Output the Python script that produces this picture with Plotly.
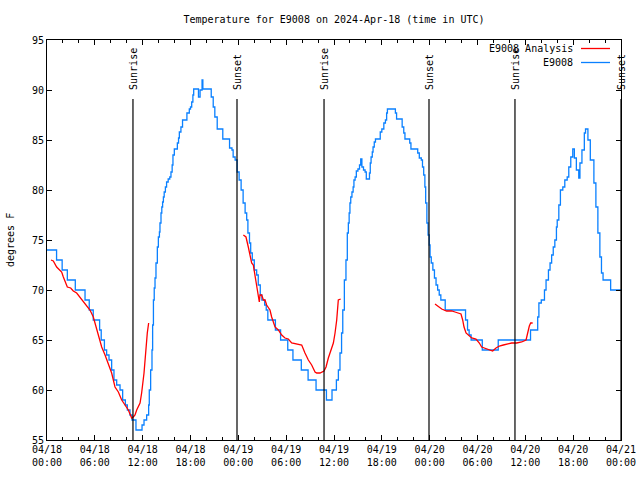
import pandas as pd
import plotly.graph_objects as go

BASE = pd.Timestamp("2024-04-18 00:00")

# Observed station temperature (E9008): hours since 04/18 00:00 UTC, degrees F
obs_hours = [0.0, 1.2, 1.9, 2.55, 3.55, 4.77, 5.3, 5.8, 6.6, 6.8, 7.2, 7.48, 7.78, 8.11, 8.4,
             8.74, 9.16, 9.49, 9.83, 10.08, 10.41, 10.66, 11.16, 11.92, 12.17, 12.5, 12.75,
             12.83, 13.0, 13.17, 13.25, 13.35, 13.45, 13.55, 13.67, 13.84, 13.97, 14.1, 14.17,
             14.3, 14.4, 14.5, 14.6, 14.7, 14.85, 15.0, 15.2, 15.4, 15.55, 15.7, 15.8, 15.97,
             16.35, 16.5, 16.6, 16.8, 17.0, 17.55, 17.85, 18.0, 18.15, 18.3, 18.4, 19.0, 19.2,
             19.45, 19.55, 20.6, 20.85, 21.05, 21.35, 22.05, 22.9, 23.2, 23.35, 23.6, 23.85,
             24.1, 24.35, 24.6, 24.85, 25.05, 25.2, 25.4, 25.55, 25.75, 26.0, 26.3, 26.5, 26.75,
             26.95, 27.3, 27.5, 27.7, 28.65, 29.3, 30.2, 30.85, 31.9, 32.75, 33.75, 35.05, 35.75,
             36.3, 36.55, 36.75, 36.95, 37.1, 37.3, 37.5, 37.67, 37.8, 37.9, 38.0, 38.1, 38.25,
             38.4, 38.5, 38.65, 38.8, 39.0, 39.2, 39.35, 39.5, 39.7, 39.9, 40.05, 40.45, 40.55,
             40.65, 40.8, 40.9, 41.05, 41.2, 41.8, 42.0, 42.25, 42.45, 42.6, 42.7, 43.7, 43.85,
             44.55, 44.75, 44.9, 45.5, 45.65, 46.5, 46.7, 46.95, 47.1, 47.25, 47.4, 47.5, 47.65,
             47.8, 47.95, 48.05, 48.2, 48.4, 48.6, 48.8, 49.0, 49.2, 49.4, 49.95, 52.5, 52.75,
             52.95, 53.2, 54.6, 56.6, 60.65, 61.55, 61.7, 62.0, 62.4, 62.6, 62.9, 63.1, 63.3,
             63.5, 63.7, 63.9, 64.0, 64.2, 64.4, 64.7, 64.95, 65.25, 65.45, 65.7, 65.95, 66.15,
             66.4, 66.7, 66.85, 67.1, 67.4, 67.55, 67.85, 68.15, 68.6, 68.85, 69.1, 69.35, 69.55,
             69.75, 70.7, 72.0]
obs_temps = [74, 73, 72, 71, 70, 69, 68, 67, 66, 65, 64, 63.5, 63, 62, 61,
             60.5, 60, 59, 58.5, 58, 57.5, 57, 56, 56.5, 57, 57.5, 58.5,
             60, 62, 64, 66.5, 69, 70.2, 71.2, 72.7, 74.3, 75.3, 75.8, 76.7,
             77.7, 78.3, 78.8, 79.3, 79.8, 80.3, 80.8, 81.1, 81.3, 81.8, 82.5, 83.5, 84.1,
             84.7, 85.2, 85.8, 86.3, 87, 87.7, 88.1, 88.3, 88.8, 89.5, 90.1, 89.3, 90,
             91, 90.1, 89.3, 88.3, 87.3, 86.1, 85.1, 84.2, 84, 83.3, 83, 81.8,
             81, 80, 78.7, 77.7, 77, 75.7, 74.7, 73.7, 73, 72, 71.5, 70.5, 69.5,
             69, 68.5, 68, 67, 66, 65, 64, 63, 62, 61, 60, 59, 60,
             61, 62, 63.7, 65.7, 68, 71, 73, 75.7, 76.7, 77.7, 78.7, 79.3, 79.8,
             80.3, 81, 81.3, 81.9, 82.1, 82.5, 83.1, 82.3, 82, 81.8, 81.1, 81.7, 82.7,
             83.3, 83.8, 84.3, 84.8, 85.1, 85.8, 86.1, 86.7, 87, 87.7, 88.1, 87.7, 87.1,
             86.3, 85.7, 85.1, 84.7, 84.1, 83.7, 83.2, 83, 82.3, 81.5, 80.3, 78.7, 76.7,
             75.5, 74.5, 73.3, 72.7, 72, 71.2, 70.5, 70, 69.5, 69, 68, 67, 66,
             65.5, 65, 64, 65, 66, 67.3, 68.7, 69, 70, 71, 72, 72.7, 73.5,
             74.3, 75, 76.3, 77, 78.5, 80, 80.3, 81, 81.3, 82.3, 83.3, 84.1, 83.2,
             82, 81.2, 82.7, 84, 85.7, 86.1, 85, 83, 80.7, 78.3, 75.7, 73.3, 71.7,
             71, 70, 70]

# Analysis (E9008 Analysis): three segments separated by None gaps
ana_hours = [0.5, 0.79, 1.21, 1.55, 1.84, 2.05, 2.3, 2.55, 2.97, 3.3, 3.72, 4.14, 4.56, 4.98,
             5.39, 5.81, 6.15, 6.44, 6.86, 7.28, 7.69, 8.11, 8.53, 8.95, 9.37, 9.78, 10.2,
             10.62, 10.83, 11.04, 11.25, 11.67, 11.87, 12.17, 12.42, 12.58, 12.75,
             18.0,
             24.63, 24.96, 25.25, 25.46, 25.67, 25.88, 26.09, 26.3, 26.51, 26.63, 26.72, 26.93,
             27.14, 27.35, 27.55, 27.76, 27.97, 28.18, 28.39, 28.6, 29.02, 29.44, 29.85, 30.27,
             30.69, 31.32, 31.95, 32.36, 32.78, 33.2, 33.62, 33.83, 34.24, 34.75, 35.0, 35.29,
             35.58, 35.92, 36.13, 36.34, 36.54, 36.84,
             42.0,
             48.67, 49.09, 49.51, 50.13, 50.76, 51.18, 51.6, 51.93, 52.14, 52.31, 52.56, 52.85,
             53.27, 53.81, 54.23, 54.52, 54.94, 55.36, 55.9, 56.32, 56.74, 57.24, 57.66, 58.29,
             58.92, 59.54, 60.09, 60.25, 60.5, 60.67, 60.92]
ana_temps = [73.0, 72.9, 72.3, 72, 71.8, 71.3, 70.7, 70.3, 70.2, 69.9, 69.7, 69.3, 68.9, 68.5,
             68, 67.3, 66.3, 65.3, 64.3, 63.5, 62.5, 61.7, 60.3, 59.8, 59, 58.5, 58,
             57.2, 57.3, 57.5, 58, 58.7, 59.7, 61.7, 64.3, 65.7, 66.7,
             None,
             75.5, 75.3, 74.3, 73.3, 72.7, 72.5, 71.5, 70.3, 69.3, 68.8, 69.5, 69.5,
             69, 69, 68.5, 68.2, 68, 67.3, 66.8, 66.3, 66, 65.5, 65.2, 65.1,
             64.7, 64.6, 64.5, 63.7, 63, 62.5, 61.8, 61.7, 61.7, 61.9, 62.3, 63.2,
             64, 64.7, 65.7, 67, 69, 69.1,
             None,
             68.6, 68.3, 68.1, 67.9, 67.9, 67.8, 67.7, 67.6, 67, 66.3, 65.7, 65.5,
             65.2, 65.1, 64.7, 64.3, 64.2, 64.1, 63.9, 64.2, 64.4, 64.5, 64.6, 64.7,
             64.7, 64.8, 65, 65.7, 66.4, 66.7, 66.7]

sun_labels = ["Sunrise", "Sunset", "Sunrise", "Sunset", "Sunrise", "Sunset"]
sun_times = ["2024-04-18 10:47", "2024-04-18 23:50", "2024-04-19 10:45",
             "2024-04-19 23:55", "2024-04-20 10:42", "2024-04-21 00:00"]

tick_vals = pd.date_range("2024-04-18 00:00", "2024-04-21 00:00", freq="6h")
tick_text = [t.strftime("%m/%d<br>%H:%M") for t in tick_vals]

FONT = "DejaVu Sans Mono"
RED = "#ff0000"
BLUE = "#0a80ff"

def to_time(hours):
    return [BASE + pd.Timedelta(hours=h) for h in hours]

fig = go.Figure()
fig.add_trace(go.Scatter(x=to_time(obs_hours), y=obs_temps, mode="lines",
                         line=dict(color=BLUE, width=1.3, shape="hv"),
                         name="E9008", showlegend=False))
fig.add_trace(go.Scatter(x=to_time(ana_hours), y=ana_temps, mode="lines",
                         line=dict(color=RED, width=1.3),
                         name="E9008 Analysis", showlegend=False, connectgaps=False))

# plot area pixel geometry: left 47, right 621, top 40, bottom 440
def px_x(p):
    return (p - 47) / 574.0

def px_y(p):
    return (440 - p) / 400.0

shapes = []
annotations = []
for lab, t in zip(sun_labels, sun_times):
    shapes.append(dict(type="line", xref="x", yref="paper", x0=t, x1=t,
                       y0=0, y1=px_y(99), line=dict(color="black", width=1.2)))
    annotations.append(dict(x=t, xref="x", y=px_y(92), yref="paper", text=lab,
                            textangle=-90, showarrow=False, xanchor="center",
                            yanchor="bottom", font=dict(family=FONT, size=10, color="black")))

# gnuplot-style legend (text right-aligned, sample line at right)
for lab, col, py in [("E9008 Analysis", RED, 48.5), ("E9008", BLUE, 62.5)]:
    annotations.append(dict(x=px_x(575), xref="paper", y=px_y(py), yref="paper", text=lab,
                            showarrow=False, xanchor="right", yanchor="middle",
                            font=dict(family=FONT, size=10, color="black")))
    shapes.append(dict(type="line", xref="paper", yref="paper", x0=px_x(581), x1=px_x(610),
                       y0=px_y(py), y1=px_y(py), line=dict(color=col, width=1.3)))

annotations.append(dict(x=px_x(10), xref="paper", y=0.5, yref="paper", text="degrees F",
                        textangle=-90, showarrow=False, xanchor="center", yanchor="middle",
                        font=dict(family=FONT, size=10, color="black")))

fig.update_layout(
    width=640, height=480,
    margin=dict(l=47, r=19, t=40, b=40),
    paper_bgcolor="white", plot_bgcolor="white",
    font=dict(family=FONT, size=10, color="black"),
    title=dict(text="Temperature for E9008 on 2024-Apr-18 (time in UTC)",
               x=0.5, xref="paper", xanchor="center",
               y=1 - 19 / 480, yref="container", yanchor="middle",
               font=dict(family=FONT, size=10, color="black")),
    shapes=shapes, annotations=annotations, showlegend=False,
)
fig.update_xaxes(type="date", range=["2024-04-18 00:00", "2024-04-21 00:00"],
                 tickmode="array", tickvals=tick_vals, ticktext=tick_text,
                 ticks="inside", ticklen=5, tickcolor="black",
                 minor=dict(ticks="inside", ticklen=3, dtick=2 * 3600000, tickcolor="black",
                            showgrid=False),
                 showline=True, linecolor="black", linewidth=1, mirror="allticks",
                 showgrid=False, zeroline=False, automargin=False,
                 tickfont=dict(family=FONT, size=10, color="black"))
fig.update_yaxes(range=[55, 95], dtick=5, tick0=55, ticks="inside", ticklen=5,
                 tickcolor="black", showline=True, linecolor="black", linewidth=1,
                 mirror="allticks", showgrid=False, zeroline=False, automargin=False,
                 tickfont=dict(family=FONT, size=10, color="black"))

fig.write_html("out.html", config={"displayModeBar": False},
               post_script="document.body.style.margin='0';document.body.style.padding='0';")
